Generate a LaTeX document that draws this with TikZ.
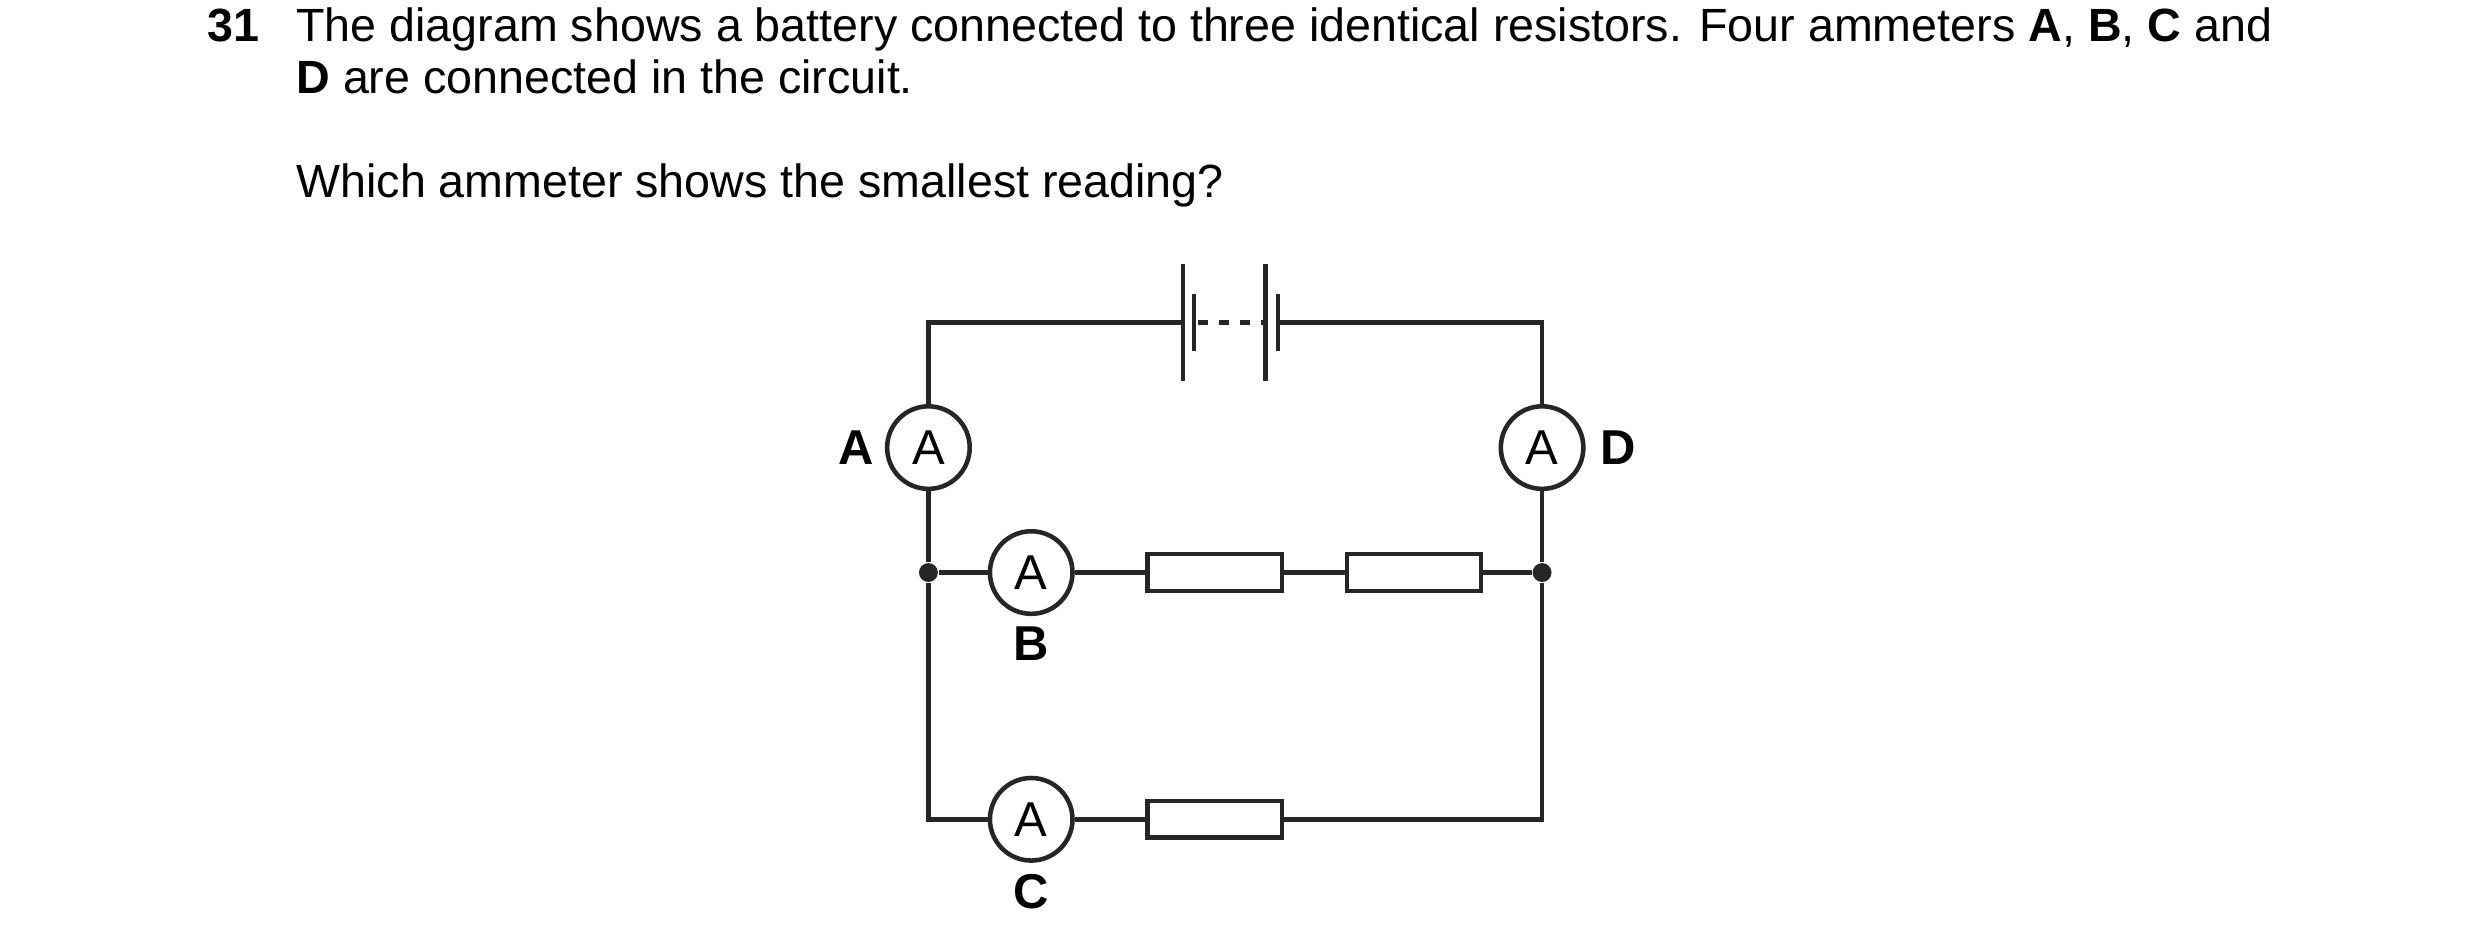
\documentclass[tikz,border=0pt]{standalone}
\usepackage{fontspec}
\setmainfont{Liberation Sans}
\usetikzlibrary{positioning}
\begin{document}
\begin{tikzpicture}[x=0.0159cm, y=-0.0159cm]

%-------------------------------------------------
% Styles
%-------------------------------------------------
\tikzset{
  wire/.style={draw=black!85, line width=1.3pt},
  meter/.style={circle, draw=black!85, line width=1.3pt, fill=white, minimum size=0.83cm, inner sep=0pt, font=\fontsize{14}{14}\selectfont},
  resistor/.style={draw=black!85, line width=1.3pt, fill=white, minimum width=1.35cm, minimum height=0.37cm, inner sep=0pt},
  junction/.style={circle, fill=black!85, inner sep=0pt, minimum size=0.19cm},
  tag/.style={font=\fontsize{14}{14}\selectfont\bfseries, inner sep=1pt},
  qtext/.style={anchor=west, font=\fontsize{13.33}{16}\selectfont}
}

\useasboundingbox (0,0) rectangle (1568,599);

%-------------------------------------------------
% Question text
%-------------------------------------------------
\node[qtext, anchor=base west, inner sep=0pt] (num) at (131,26) {\textbf{31}};
\node[qtext, anchor=base west, inner sep=0pt] (l1) at (187,26) {The diagram shows a battery connected to three identical resistors. Four ammeters \textbf{A}, \textbf{B}, \textbf{C} and};
\node[qtext, anchor=base west, inner sep=0pt] (l2) at (187,59) {\textbf{D} are connected in the circuit.};
\node[qtext, anchor=base west, inner sep=0pt] (l3) at (187,125) {Which ammeter shows the smallest reading?};

%-------------------------------------------------
% Corners and junctions
%-------------------------------------------------
\coordinate (TL) at (587,204);
\coordinate (TR) at (975,204);
\coordinate (BL) at (587,518);
\coordinate (BR) at (975,518);
\node[junction] (JL) at (587,362) {};
\node[junction] (JR) at (975,362) {};

% Battery
\coordinate (P1) at (748,204);
\coordinate (P2) at (755,204);
\coordinate (P3) at (800,204);
\coordinate (P4) at (808,204);

% Meters
\node[meter] (mA) at (587,283) {A};
\node[meter] (mD) at (975,283) {A};
\node[meter] (mB) at (652,362) {A};
\node[meter] (mC) at (652,518) {A};

% Resistors
\node[resistor] (R1) at (768,362) {};
\node[resistor] (R2) at (894,362) {};
\node[resistor] (R3) at (768,518) {};

% Labels
\node[tag, left=2pt of mA] (tA) {A};
\node[tag, right=3pt of mD] (tD) {D};
\node[tag, below=2pt of mB] (tB) {B};
\node[tag, below=2pt of mC] (tC) {C};

%-------------------------------------------------
% Wires
%-------------------------------------------------
\draw[wire] (P1) -- (TL) -- (mA) -- (JL) -- (mB) -- (R1) -- (R2) -- (JR);
\draw[wire] (P4) -- (TR) -- (mD) -- (JR) -- (BR) -- (R3) -- (mC) -- (BL) -- (JL);

% Cells
\draw[wire] ([yshift=-37*0.0159cm]P1) -- ([yshift=37*0.0159cm]P1);
\draw[wire] ([yshift=-18*0.0159cm]P2) -- ([yshift=18*0.0159cm]P2);
\draw[wire] ([yshift=-37*0.0159cm]P3) -- ([yshift=37*0.0159cm]P3);
\draw[wire] ([yshift=-18*0.0159cm]P4) -- ([yshift=18*0.0159cm]P4);
\draw[wire, dash pattern=on 3pt off 3pt, dash phase=-1pt] (P2) -- (P3);

\end{tikzpicture}
\end{document}
